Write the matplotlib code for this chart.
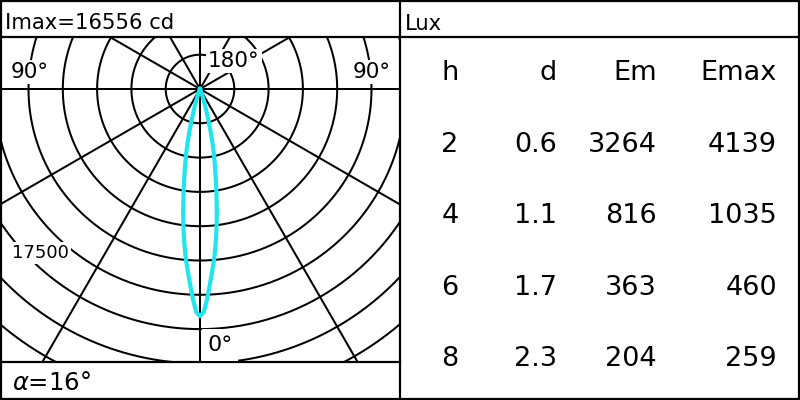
import matplotlib
matplotlib.use('Agg')
import matplotlib.pyplot as plt
import numpy as np

# ---------------- data ----------------
imax_cd = 16556
beam_angle_deg = 16
ring_step_cd = 2500
ring_label = "17500"

# luminous intensity (cd) vs angle from nadir (deg)
angles_deg = [0, 1, 2, 3, 4, 5, 6, 7, 8, 9, 10, 11, 12, 13, 14, 15, 16, 17, 18, 19, 20, 22, 25, 30]
intensity_cd = [16556, 16250, 15250, 14150, 13150, 12200, 11100, 9950, 8800, 7650, 6600,
                5700, 4900, 4050, 3200, 2400, 1750, 1250, 850, 550, 350, 150, 50, 0]

headers = ['h', 'd', 'Em', 'Emax']
heights = ['2', '4', '6', '8']
diameters = ['0.6', '1.1', '1.7', '2.3']
em_vals = ['3264', '816', '363', '204']
emax_vals = ['4139', '1035', '460', '259']

# ---------------- figure ----------------
plt.rcParams['font.family'] = ['DejaVu Sans']
W, H = 800, 400
fig = plt.figure(figsize=(8, 4), dpi=100)
fig.patch.set_facecolor('white')

# polar diagram area (left panel between header and footer)
cx_px, cy_px = 200, 89          # pole position in pixels
top_px, bot_px = 37, 362
px_per_cd = 34.3 / ring_step_cd
ax = fig.add_axes([0, (H - bot_px) / H, 0.5, (bot_px - top_px) / H])
ax.set_xlim(-cx_px / px_per_cd, (400 - cx_px) / px_per_cd)
ax.set_ylim(-(bot_px - cy_px) / px_per_cd, (cy_px - top_px) / px_per_cd)
ax.axis('off')

grid_lw = 1.45
t = np.linspace(0, 2 * np.pi, 721)
for k in range(1, 15):
    r = k * ring_step_cd
    ax.plot(r * np.sin(t), -r * np.cos(t), color='black', lw=grid_lw, zorder=1)
R = 40000
for a in range(0, 360, 30):
    th = np.deg2rad(a)
    ax.plot([0, R * np.sin(th)], [0, -R * np.cos(th)], color='black', lw=grid_lw, zorder=1)

ang = np.deg2rad(np.array(angles_deg, dtype=float))
I = np.array(intensity_cd, dtype=float)
full_ang = np.concatenate([-ang[::-1], ang[1:]])
full_I = np.concatenate([I[::-1], I[1:]])
ax.plot(full_I * np.sin(full_ang), -full_I * np.cos(full_ang), color='#22E4EE', lw=3.0,
        solid_joinstyle='round', zorder=5)

# overlay in pixel coordinates for frame, labels and table
ov = fig.add_axes([0, 0, 1, 1], zorder=10)
ov.set_xlim(0, W)
ov.set_ylim(H, 0)
ov.axis('off')
ov.patch.set_alpha(0)

blw = 1.6
ov.plot([1, 799, 799, 1, 1], [1, 1, 399, 399, 1], color='black', lw=blw, solid_joinstyle='miter')
ov.plot([0, 800], [37, 37], color='black', lw=blw)
ov.plot([400, 400], [0, 400], color='black', lw=blw)
ov.plot([0, 400], [362, 362], color='black', lw=blw)

wb = dict(facecolor='white', edgecolor='none', pad=1.5)
ov.text(5, 29, f"Imax={imax_cd} cd", fontsize=15.2, va='baseline', ha='left')
ov.text(405, 30, "Lux", fontsize=15.2, va='baseline', ha='left')
ov.text(29.5, 72, "90°", fontsize=15.5, ha='center', va='center', bbox=wb)
ov.text(372, 72, "90°", fontsize=15.5, ha='center', va='center', bbox=wb)
ov.text(234, 61, "180°", fontsize=15.5, ha='center', va='center', bbox=wb)
ov.text(220, 345, "0°", fontsize=16, ha='center', va='center',
        bbox=dict(facecolor='white', edgecolor='none', pad=4))
ov.text(40, 253, ring_label, fontsize=13, ha='center', va='center', bbox=wb)
ov.text(12, 390, r"$\alpha$" + f"={beam_angle_deg}°", fontsize=17.5, va='baseline', ha='left')

# table
col_x = [450, 557, 657, 777]
col_ha = ['center', 'right', 'right', 'right']
row_y = [80, 152, 223, 295, 366]
cols = [heights, diameters, em_vals, emax_vals]
for j, hd in enumerate(headers):
    ov.text(col_x[j], row_y[0], hd, fontsize=19.5, ha=col_ha[j], va='baseline')
for i in range(len(heights)):
    for j in range(4):
        ov.text(col_x[j], row_y[i + 1], cols[j][i], fontsize=19.5, ha=col_ha[j], va='baseline')

fig.savefig('out.png', dpi=100, facecolor='white')
